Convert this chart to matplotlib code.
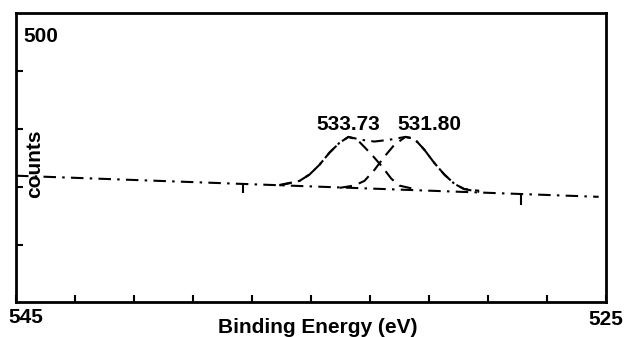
import numpy as np
import matplotlib.pyplot as plt

plt.rcParams['font.family'] = ['Liberation Sans', 'DejaVu Sans']
plt.rcParams['font.weight'] = 'bold'

# values (binding energy in eV, counts)
base_x = [545.0, 525.25]
base_y = [219, 182.5]

peak1_x = [536.07, 535.39, 535.05, 534.71, 534.37, 534.03, 533.73, 533.43,
           533.16, 532.85, 532.58, 532.28, 532.01, 531.50]
peak1_y = [202, 210, 221, 238, 259, 276, 286, 281, 267, 250, 234, 214, 202, 196]

peak2_x = [534.03, 533.53, 533.19, 532.85, 532.51, 532.18, 531.80, 531.50,
           531.16, 530.82, 530.48, 530.14, 529.81, 529.30]
peak2_y = [198, 202, 210, 229, 252, 272, 286, 283, 264, 241, 221, 205, 196, 193]

env_x = [536.07, 535.39, 535.05, 534.71, 534.37, 534.03, 533.73, 533.29,
         532.85, 532.35, 531.80, 531.50, 531.16, 530.82, 530.48, 530.14,
         529.81, 529.30]
env_y = [203, 210, 221, 238, 259, 276, 286, 281, 278, 281, 286, 283, 264,
         241, 221, 205, 196, 191]

marker_x = [537.32, 527.88]
marker_top = [205, 187]
marker_bot = [189, 169]

peak_labels = ['533.73', '531.80']
label_x = [533.73, 530.97]
label_y = [298, 298]

fig = plt.figure(figsize=(6.3, 3.37), dpi=100)
ax = fig.add_axes([0.0254, 0.1024, 0.9365, 0.859])

dashdot = (0, (6, 3, 1.2, 3))
dashed = (0, (6, 3.5))
ax.plot(base_x, base_y, color='black', lw=1.5, ls=dashdot)
ax.plot(env_x, env_y, color='black', lw=1.5, ls=dashdot)
ax.plot(peak1_x, peak1_y, color='black', lw=1.5, ls=dashed)
ax.plot(peak2_x, peak2_y, color='black', lw=1.5, ls=dashed)
ax.vlines(marker_x, marker_bot, marker_top, color='black', lw=1.5)

for t, lx, ly in zip(peak_labels, label_x, label_y):
    ax.text(lx, ly, t, ha='center', va='baseline', fontsize=15, fontweight='bold')

ax.set_xlim(545, 525)
ax.set_ylim(0, 500)
ax.set_xticks(np.arange(525, 546, 2.0))
ax.set_xticklabels([])
ax.set_yticks([100, 200, 300, 400])
ax.set_yticklabels([])
ax.tick_params(direction='in', length=5, width=1.5, top=False, right=False)
for s in ax.spines.values():
    s.set_linewidth(2)

ax.text(0.0118, 0.952, '500', transform=ax.transAxes, ha='left', va='top',
        fontsize=15, fontweight='bold')
ax.text(-0.0135, -0.019, '545', transform=ax.transAxes, ha='left', va='top',
        fontsize=15, fontweight='bold')
ax.text(1.030, -0.025, '525', transform=ax.transAxes, ha='right', va='top',
        fontsize=15, fontweight='bold')

ax.set_xlabel('Binding Energy (eV)', fontsize=15, fontweight='bold')
ax.xaxis.set_label_coords(0.511, -0.052)
ax.xaxis.label.set_va('top')
ax.set_ylabel('counts', fontsize=15, fontweight='bold')
ax.yaxis.set_label_coords(0.031, 0.478)
ax.yaxis.label.set_va('center')

fig.savefig('out.png', dpi=100)
